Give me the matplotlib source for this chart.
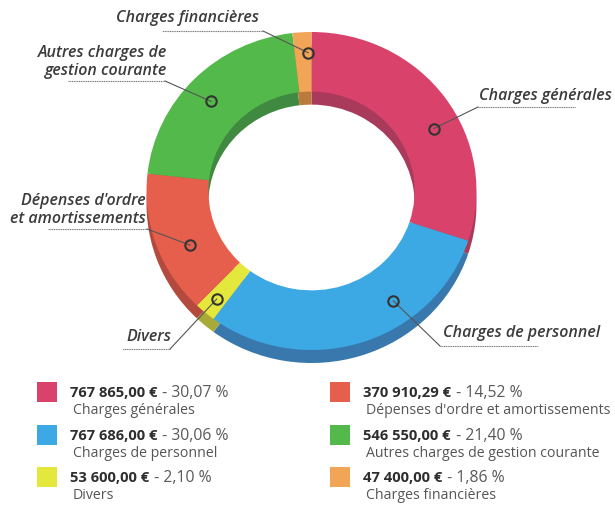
import math
import matplotlib
matplotlib.use("Agg")
import matplotlib.pyplot as plt
from matplotlib.patches import Rectangle

# data
names = ["Charges générales", "Charges de personnel", "Divers",
         "Dépenses d'ordre et amortissements",
         "Autres charges de gestion courante", "Charges financières"]
amounts = [767865.00, 767686.00, 53600.00, 370910.29, 546550.00, 47400.00]
percents = [30.07, 30.06, 2.10, 14.52, 21.40, 1.86]
callout_labels = ["Charges générales", "Charges de personnel", "Divers",
                  "Dépenses d'ordre\net amortissements",
                  "Autres charges de\ngestion courante", "Charges financières"]

colors = ["#d9436b", "#3da9e4", "#e4e83c", "#e65f4c", "#54b94b", "#f2a457"]
side_colors = ["#a93a5b", "#3878ad", "#a8aa38", "#b44a3d", "#3f8a40", "#b97a3c"]

# layout (image pixel coordinates, y pointing down)
W, H = 615, 506
cx, cy, Rx, Ry, depth = 311.5, 192, 165, 159, 13
hole = 0.625
# per slice: angle shift from mid-angle, marker radius (fraction), elbow, underline end, text anchor
callouts = [
    dict(shift=-8, f=0.84, elbow=(478, 108), end=(575, 108), text=(479, 96), ha="left"),
    dict(shift=18, f=0.85, elbow=(440, 347), end=(538, 347), text=(443, 333), ha="left"),
    dict(shift=0, f=0.89, elbow=(170, 350), end=(122, 350), text=(171, 337), ha="right"),
    dict(shift=5, f=0.81, elbow=(147, 230), end=(48, 230), text=(146, 210), ha="right"),
    dict(shift=2, f=0.83, elbow=(165, 82), end=(68, 82), text=(167, 62), ha="right"),
    dict(shift=-2, f=0.87, elbow=(263, 32), end=(162, 32), text=(188, 18), ha="center"),
]

fig = plt.figure(figsize=(W / 100, H / 100), dpi=100)

# ring in its own axes so it can be slightly elliptical
ring = fig.add_axes([(cx - Rx) / W, 1 - (cy + Ry + depth) / H,
                     2 * Rx / W, (2 * Ry + depth) / H])
d = depth / Ry
ring.pie(amounts, colors=side_colors, radius=1, center=(0, -d),
         startangle=90, counterclock=False,
         wedgeprops=dict(width=1 - hole, linewidth=0))
ring.pie(amounts, colors=colors, radius=1, center=(0, 0),
         startangle=90, counterclock=False,
         wedgeprops=dict(width=1 - hole, linewidth=0))
ring.set_xlim(-1, 1)
ring.set_ylim(-1 - d, 1)
ring.set_aspect("auto")
ring.axis("off")

# overlay axes in pixel coordinates for callouts and legend
ax = fig.add_axes([0, 0, 1, 1])
ax.set_zorder(2)
ax.patch.set_visible(False)
ax.set_xlim(0, W)
ax.set_ylim(H, 0)
ax.axis("off")

label_font = dict(family="Open Sans", style="italic", weight="semibold",
                  size=11.5, color="#3c3c3c")

total = sum(amounts)
start = 90.0
for i, v in enumerate(amounts):
    sweep = 360.0 * v / total
    c = callouts[i]
    mid = math.radians(start - sweep / 2 + c["shift"])
    start -= sweep
    mx = cx + Rx * c["f"] * math.cos(mid)
    my = cy - Ry * c["f"] * math.sin(mid)
    ex, ey = c["elbow"]
    ax.plot([mx, ex], [my, ey], color="#555555", lw=0.8, zorder=5)
    ax.plot([ex, c["end"][0]], [ey, c["end"][1]], color="#777777", lw=0.8,
            ls=(0, (1, 0.6)), zorder=5)
    ax.plot(mx, my, "o", ms=7.5, mfc="none", mec="#333333", mew=1.5, zorder=6)
    ax.text(c["text"][0], c["text"][1], callout_labels[i], ha=c["ha"],
            va="center", linespacing=1.1, **label_font)


def fr_amount(v):
    s = f"{v:,.2f}"
    return s.replace(",", " ").replace(".", ",") + " €"


def fr_pct(p):
    return f"{p:.2f}".replace(".", ",") + " %"


fig.canvas.draw()
renderer = fig.canvas.get_renderer()
col_x = [37, 330]
row_y = [383, 426, 468]
for i in range(len(amounts)):
    col, row = divmod(i, 3)
    x0, y0 = col_x[col], row_y[row]
    ax.add_patch(Rectangle((x0, y0), 20, 20, color=colors[i], lw=0))
    tx = x0 + 33
    t = ax.text(tx, y0 + 10, fr_amount(amounts[i]), family="Open Sans",
                weight="bold", size=10.6, color="#2e2e2e", va="center")
    bb = t.get_window_extent(renderer)
    ax.text(tx + bb.width + 1, y0 + 10, " - " + fr_pct(percents[i]),
            family="Open Sans", size=11.3, color="#5a5a5a", va="center")
    ax.text(tx + 3, y0 + 28, names[i], family="Open Sans", size=10.2,
            color="#555555", va="center")

fig.savefig("out.png", dpi=100, facecolor="white")
